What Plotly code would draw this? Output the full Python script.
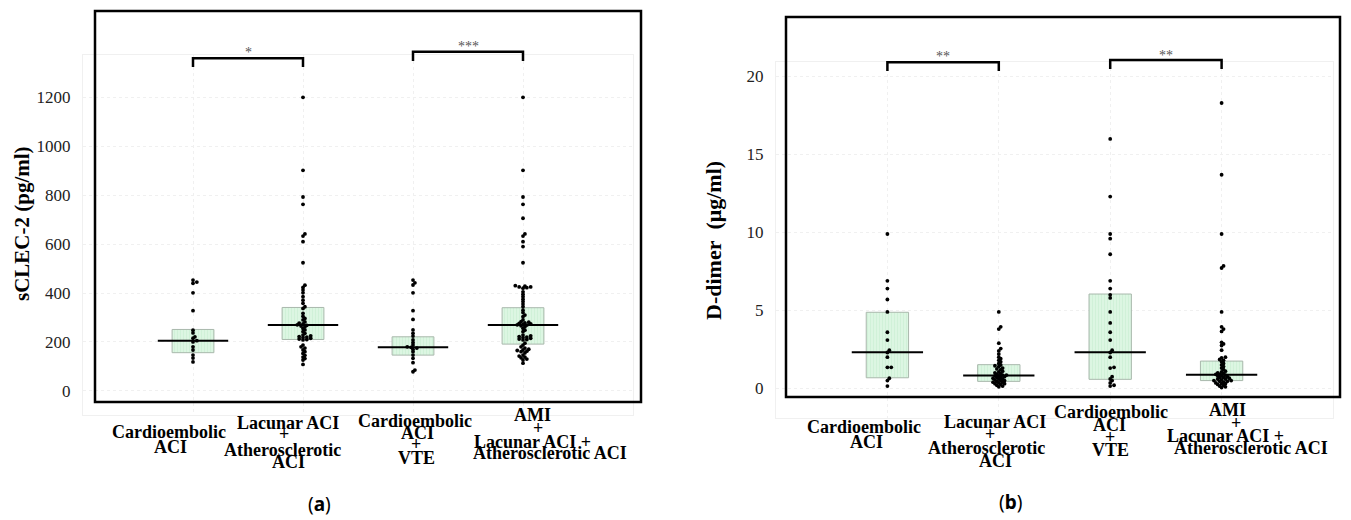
import numpy as np
import plotly.graph_objects as go

W, H = 1351, 520

# ---------------- data ----------------
CATEGORIES = ["Cardioembolic ACI",
              "Lacunar ACI + Atherosclerotic ACI",
              "Cardioembolic ACI + VTE",
              "AMI + Lacunar ACI + Atherosclerotic ACI"]
LABEL_LINES = [["Cardioembolic", "ACI"],
               ["Lacunar ACI", "+", "Atherosclerotic", "ACI"],
               ["Cardioembolic", "ACI", "+", "VTE"],
               ["AMI", "+", "Lacunar ACI +", "Atherosclerotic ACI"]]

# (a) sCLEC-2 (pg/ml)
SCLEC_G1 = [453, 445, 440, 401, 328, 248, 237, 221, 215, 205, 200, 180, 167, 146, 134, 118]
SCLEC_G2 = [1201, 902, 793, 763, 642, 633, 610, 524, 432, 423, 412, 401, 385, 371, 358, 344,
            337, 317, 305, 296, 290, 282, 277, 274, 270, 268, 265, 262, 255, 249, 242, 235,
            228, 225, 222, 220, 218, 215, 212, 210, 208, 187, 180, 175, 167, 160, 153, 145,
            138, 132, 126, 108]
SCLEC_G3 = [453, 442, 433, 401, 328, 292, 249, 235, 224, 208, 197, 187, 180, 178, 175, 170,
            160, 146, 133, 115, 85, 78]
SCLEC_G4 = [1201, 902, 793, 763, 706, 642, 633, 610, 590, 524, 430, 428, 425, 425, 422, 420,
            405, 395, 385, 375, 365, 355, 344, 330, 320, 310, 303, 290, 283, 281, 278, 276,
            274, 272, 270, 269, 266, 262, 256, 248, 242, 228, 225, 222, 220, 218, 215, 212,
            210, 208, 195, 187, 180, 175, 170, 167, 165, 162, 160, 155, 146, 142, 138, 135,
            130, 126, 113]
SCLEC_Q1 = [156, 210, 146, 191]
SCLEC_MED = [205, 269, 178, 269]
SCLEC_Q3 = [251, 341, 221, 340]
SCLEC_TICKS = [0, 200, 400, 600, 800, 1000, 1200]
SCLEC_SIG = ["*", "***"]

# (b) D-dimer (ug/ml)
DD_G1 = [9.9, 6.9, 6.4, 5.7, 4.9, 3.6, 3.1, 2.45, 2.3, 2.0, 1.35, 1.35, 0.65, 0.5, 0.15]
DD_G2 = [4.9, 3.95, 3.8, 2.9, 2.55, 2.4, 2.2, 2.0, 1.9, 1.8, 1.7, 1.6, 1.5, 1.45, 1.4, 1.3,
         1.25, 1.2, 1.1, 1.05, 1.0, 0.95, 0.9, 0.85, 0.85, 0.8, 0.8, 0.75, 0.7, 0.7, 0.65,
         0.6, 0.6, 0.55, 0.5, 0.5, 0.45, 0.4, 0.4, 0.35, 0.3, 0.3, 0.25, 0.2, 0.15, 0.1]
DD_G3 = [16.0, 12.3, 9.9, 9.6, 8.6, 6.9, 6.4, 6.0, 5.8, 4.9, 4.2, 3.6, 3.1, 2.45, 2.3, 2.0,
         1.35, 1.3, 0.75, 0.6, 0.5, 0.35, 0.2, 0.15]
DD_G4 = [18.3, 13.7, 9.9, 7.85, 7.72, 4.9, 3.95, 3.8, 3.65, 2.95, 2.85, 2.75, 2.45, 2.0,
         1.95, 1.85, 1.8, 1.7, 1.6, 1.5, 1.4, 1.3, 1.2, 1.1, 1.05, 1.0, 0.95, 0.9, 0.9,
         0.85, 0.8, 0.8, 0.75, 0.7, 0.7, 0.65, 0.6, 0.6, 0.55, 0.5, 0.5, 0.45, 0.45, 0.4,
         0.35, 0.3, 0.3, 0.25, 0.2, 0.15, 0.1, 0.05]
DD_Q1 = [0.68, 0.45, 0.58, 0.50]
DD_MED = [2.31, 0.82, 2.31, 0.88]
DD_Q3 = [4.88, 1.52, 6.05, 1.75]
DD_TICKS = [0, 5, 10, 15, 20]
DD_SIG = ["**", "**"]

SIG_PAIRS = [(0, 1), (2, 3)]

# ---------------- styling / layout config ----------------
SERIF = "Liberation Serif, Times New Roman, serif"
BOX_FILL = "#dcf6e2"
BOX_STRIPE = "#c2ebcc"
BOX_EDGE = "#a9b8ac"
GRID = "#f0f0f0"

PANELS = [
    dict(groups=[SCLEC_G1, SCLEC_G2, SCLEC_G3, SCLEC_G4], q1=SCLEC_Q1, med=SCLEC_MED,
         q3=SCLEC_Q3, ticks=SCLEC_TICKS, sig=SCLEC_SIG, title="sCLEC-2 (pg/ml)",
         px=(83, 633), py=(55, 415), yr=(-99, 1374), frame=(95, 641, 11, 402),
         title_xy=(22, 224), title_size=21, caption="(<b>a</b>)", caption_xy=(319, 504),
         bracket_px=[(58.3, 67), (51.7, 61)], star_px=[53, 46],
         label_dx=[[-24, -23], [-15, -19, -21, -15], [2, 4, 3, 3], [9, 15, 9, 27]],
         label_y=[[432, 447], [423, 434, 450, 462], [421, 433, 444, 458], [415, 428, 442, 453]]),
    dict(groups=[DD_G1, DD_G2, DD_G3, DD_G4], q1=DD_Q1, med=DD_MED, q3=DD_Q3,
         ticks=DD_TICKS, sig=DD_SIG, title="D-dimer\u00a0\u00a0(μg/ml)",
         px=(776, 1333), py=(62, 418), yr=(-1.9, 20.93), frame=(786, 1340, 17, 397),
         title_xy=(713, 241), title_size=22, caption="(<b>b</b>)", caption_xy=(1010, 502),
         bracket_px=[(62.3, 71), (60, 69)], star_px=[57, 55],
         label_dx=[[-23, -21], [-4, -9, -12, -3], [1, -1, 0, 0], [6, 14, 4, 29]],
         label_y=[[427, 442], [422, 434, 448, 461], [412, 425, 437, 450], [410, 423, 436, 448]]),
]
XR = (-1.0, 4.0)
DOT_D = 2.4  # px, swarm collision distance


def swarm_offsets(vals, ppu_y, ppu_x):
    """Deterministic beeswarm offsets (in x data units)."""
    vals = np.asarray(vals, float)
    order = np.argsort(vals)
    placed = []
    offs = np.zeros(len(vals))
    step = DOT_D * 0.8
    for idx in order:
        ypx = vals[idx] * ppu_y
        k = 0
        while True:
            cands = [0.0] if k == 0 else [k * step, -k * step]
            ok_c = None
            for c in cands:
                if all((c - px_) ** 2 + (ypx - py_) ** 2 >= DOT_D ** 2 for px_, py_ in placed):
                    ok_c = c
                    break
            if ok_c is not None:
                placed.append((ok_c, ypx))
                offs[idx] = ok_c / ppu_x
                break
            k += 1
    return offs


fig = go.Figure()
layout_axes = {}
shapes, annotations = [], []

for p_i, P in enumerate(PANELS):
    suf = "" if p_i == 0 else str(p_i + 1)
    xa, ya = "x" + suf, "y" + suf
    x0p, x1p = P["px"]
    y0p, y1p = P["py"]
    yr = P["yr"]
    ppu_x = (x1p - x0p) / (XR[1] - XR[0])
    ppu_y = (y1p - y0p) / (yr[1] - yr[0])

    def ypx_dom(ypx, y0p=y0p, y1p=y1p):
        return (y1p - ypx) / (y1p - y0p)

    cats = list(range(len(CATEGORIES)))
    # IQR boxes
    fig.add_trace(go.Bar(
        x=cats, base=P["q1"], y=[b - a for a, b in zip(P["q1"], P["q3"])], width=0.38,
        marker=dict(color=BOX_FILL, line=dict(color=BOX_EDGE, width=1),
                    pattern=dict(shape="|", fgcolor=BOX_STRIPE, size=3, solidity=0.3)),
        xaxis=xa, yaxis=ya, showlegend=False, hoverinfo="skip"))
    # medians
    mx, my = [], []
    for c, m in zip(cats, P["med"]):
        mx += [c - 0.32, c + 0.32, None]
        my += [m, m, None]
    fig.add_trace(go.Scatter(x=mx, y=my, mode="lines", line=dict(color="black", width=2),
                             xaxis=xa, yaxis=ya, showlegend=False, hoverinfo="skip"))
    # points
    for c, g in zip(cats, P["groups"]):
        offs = swarm_offsets(g, ppu_y, ppu_x)
        fig.add_trace(go.Scatter(x=c + offs, y=g, mode="markers",
                                 marker=dict(color="black", size=3.8, line=dict(width=0)),
                                 xaxis=xa, yaxis=ya, showlegend=False))

    layout_axes["xaxis" + suf] = dict(
        domain=[x0p / W, x1p / W], range=list(XR), tickvals=cats, showticklabels=False,
        ticks="", showgrid=True, gridcolor=GRID, griddash="dot", gridwidth=1, zeroline=False,
        showline=True, linecolor=GRID, mirror=True, anchor=ya, fixedrange=True)
    layout_axes["yaxis" + suf] = dict(
        domain=[1 - y1p / H, 1 - y0p / H], range=list(yr), tickvals=P["ticks"],
        ticktext=[str(t) for t in P["ticks"]], ticks="", ticklabelstandoff=8,
        tickfont=dict(family=SERIF, size=17, color="#222"),
        showgrid=True, gridcolor=GRID, griddash="dot", gridwidth=1, zeroline=False,
        showline=True, linecolor=GRID, mirror=True, anchor=xa, fixedrange=True)

    # black frame
    fx0, fx1, fy0, fy1 = P["frame"]
    shapes.append(dict(type="rect", xref="paper", yref="paper", x0=fx0 / W, x1=fx1 / W,
                       y0=1 - fy1 / H, y1=1 - fy0 / H, line=dict(color="black", width=2.5)))

    # significance brackets
    for (a, b), (top_px, leg_px), s, spx in zip(SIG_PAIRS, P["bracket_px"], P["sig"], P["star_px"]):
        ytop, yleg = ypx_dom(top_px), ypx_dom(leg_px)
        shapes.append(dict(type="path", xref=xa, yref=ya + " domain",
                           path=f"M {a},{yleg} L {a},{ytop} L {b},{ytop} L {b},{yleg}",
                           line=dict(color="black", width=2.5)))
        annotations.append(dict(text=s, xref=xa, yref=ya + " domain", x=(a + b) / 2,
                                y=ypx_dom(spx), showarrow=False, yanchor="middle",
                                font=dict(family=SERIF, size=14, color="#555")))

    # category labels
    for c, lines, dxs, ys in zip(cats, LABEL_LINES, P["label_dx"], P["label_y"]):
        for t, dx, ypx in zip(lines, dxs, ys):
            annotations.append(dict(text=f"<b>{t}</b>", xref=xa, yref="paper", x=c, xshift=dx,
                                    y=1 - ypx / H, showarrow=False, xanchor="center",
                                    yanchor="middle", borderpad=0,
                                    font=dict(family=SERIF, size=18, color="black")))

    # y-axis title
    tx, ty = P["title_xy"]
    annotations.append(dict(text=f"<b>{P['title']}</b>", xref="paper", yref="paper",
                            x=tx / W, y=1 - ty / H, textangle=-90, showarrow=False,
                            xanchor="center", yanchor="middle",
                            font=dict(family=SERIF, size=P["title_size"], color="black")))
    # caption
    cx, cy = P["caption_xy"]
    annotations.append(dict(text=P["caption"], xref="paper", yref="paper", x=cx / W,
                            y=1 - cy / H, showarrow=False, xanchor="center", yanchor="middle",
                            borderpad=0,
                            font=dict(family="Noto Sans, DejaVu Sans, sans-serif", size=19,
                                      color="black")))

fig.update_layout(
    width=W, height=H, autosize=False, margin=dict(l=0, r=0, t=0, b=0),
    paper_bgcolor="white", plot_bgcolor="white", showlegend=False,
    shapes=shapes, annotations=annotations, **layout_axes)

fig.write_html("out.html", config={"displayModeBar": False},
               post_script="document.body.style.margin='0';document.body.style.overflow='hidden';")
